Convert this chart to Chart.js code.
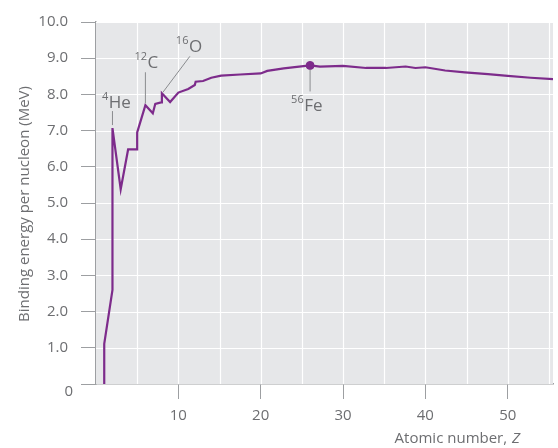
<!DOCTYPE html>
<html lang="en">
<head>
<meta charset="UTF-8">
<title>Binding energy per nucleon</title>
<script src="https://cdn.jsdelivr.net/npm/chart.js"></script>
<style>
  html, body { margin: 0; padding: 0; background: #fff; }
</style>
</head>
<body>
<canvas id="bindingChart" width="558" height="448"></canvas>
<script>
// curve: atomic number Z vs binding energy per nucleon (MeV)
const atomicNumber = [1, 1, 2, 2, 3, 3.9, 5, 5, 6, 6.9, 7.2, 7.9, 8, 9, 10, 11.2, 12, 12.1, 13, 14, 15.2,
  17.5, 20, 20.8, 22.8, 24.4, 26, 27.2, 30, 32.8, 35.2, 37.6, 38.8, 40, 42.4, 44.8, 47.6, 50, 52.8, 55.5];
const bindingEnergy = [0, 1.11, 2.6, 7.07, 5.38, 6.48, 6.48, 6.95, 7.7, 7.48, 7.74, 7.78, 8.03, 7.79, 8.05, 8.15, 8.26, 8.35, 8.37, 8.46, 8.52,
  8.55, 8.58, 8.65, 8.72, 8.76, 8.80, 8.77, 8.79, 8.73, 8.73, 8.77, 8.73, 8.75, 8.66, 8.61, 8.56, 8.51, 8.46, 8.42];

// iron-56, the marked maximum
const ironZ = [26];
const ironEnergy = [8.80];

// labelled nuclides: superscript mass number, symbol, index of the point on the curve
const nuclideMass = ['4', '12', '16', '56'];
const nuclideSymbol = ['He', 'C', 'O', 'Fe'];
const nuclidePoint = [3, 8, 12, 26];

const xLabelTicks = [10, 20, 30, 40, 50];

const purple = '#7d2b8b';
const textGray = '#6d6e71';
const axisGray = '#9d9fa2';
const font = '"Open Sans", sans-serif';

// where each label sits relative to its point (px): label left, main baseline, leader line
const noteLayout = [
  { dx: -10.5, dy: -20, lead: [0, -3, 0, -17] },
  { dx: -11, dy: -37, lead: [0, -2, 0, -33] },
  { dx: 14, dy: -41, lead: [1, -1, 28, -37] },
  { dx: -19, dy: 46, lead: [0, 4, 0, 26] }
];

// plot background plus white grid, drawn before the axes
const decor = {
  id: 'decor',
  beforeDatasetsDraw(chart) {
    const { ctx, chartArea: a } = chart;
    const xs = chart.scales.x, ys = chart.scales.y;
    ctx.save();
    ctx.fillStyle = '#e6e7e9';
    ctx.fillRect(a.left, a.top, a.right - a.left, a.bottom - a.top);
    ctx.strokeStyle = '#ffffff';
    ctx.lineWidth = 1.2;
    ctx.beginPath();
    xs.ticks.forEach(t => {
      const x = Math.round(xs.getPixelForValue(t.value)) + 0.5;
      if (x <= a.left + 1) return;
      ctx.moveTo(x, a.top);
      ctx.lineTo(x, a.bottom);
    });
    ys.ticks.forEach(t => {
      const y = Math.round(ys.getPixelForValue(t.value)) + 0.5;
      if (y >= a.bottom - 1) return;
      ctx.moveTo(a.left, y);
      ctx.lineTo(a.right, y);
    });
    ctx.stroke();
    ctx.restore();
  },
  afterDraw(chart) {
    const { ctx } = chart;
    const xs = chart.scales.x, ys = chart.scales.y;
    ctx.save();
    ctx.fillStyle = textGray;
    ctx.strokeStyle = '#8a8c8f';
    ctx.lineWidth = 1;
    nuclidePoint.forEach((idx, i) => {
      const px = xs.getPixelForValue(atomicNumber[idx]);
      const py = ys.getPixelForValue(bindingEnergy[idx]);
      const l = noteLayout[i];
      ctx.beginPath();
      ctx.moveTo(px + l.lead[0], py + l.lead[1]);
      ctx.lineTo(px + l.lead[2], py + l.lead[3]);
      ctx.stroke();
      const left = px + l.dx, base = py + l.dy;
      ctx.textAlign = 'left';
      ctx.textBaseline = 'alphabetic';
      ctx.font = '11px ' + font;
      ctx.fillText(nuclideMass[i], left, base - 8);
      const w = ctx.measureText(nuclideMass[i]).width;
      ctx.font = '17px ' + font;
      ctx.fillText(nuclideSymbol[i], left + w + 0.5, base);
    });

    // the zero label sits a little below the axis in the original
    ctx.font = '15px ' + font;
    ctx.textAlign = 'right';
    ctx.textBaseline = 'middle';
    ctx.fillText('0', 73, ys.getPixelForValue(0) + 8);

    // x title with italic Z
    ctx.textBaseline = 'alphabetic';
    ctx.font = 'italic 15px ' + font;
    const zw = ctx.measureText('Z').width;
    ctx.fillText('Z', 520, 443);
    ctx.font = '15px ' + font;
    ctx.fillText('Atomic number, ', 520 - zw - 1, 443);

    // y title
    ctx.translate(29, 204);
    ctx.rotate(-Math.PI / 2);
    ctx.textAlign = 'center';
    ctx.fillText('Binding energy per nucleon (MeV)', 0, 0);
    ctx.restore();
  }
};

new Chart(document.getElementById('bindingChart'), {
  type: 'line',
  data: {
    datasets: [
      {
        data: ironZ.map((z, i) => ({ x: z, y: ironEnergy[i] })),
        borderColor: purple,
        backgroundColor: purple,
        showLine: false,
        pointRadius: 4,
        pointHoverRadius: 4,
        order: 0
      },
      {
        data: atomicNumber.map((z, i) => ({ x: z, y: bindingEnergy[i] })),
        borderColor: purple,
        borderWidth: 2.2,
        pointRadius: 0,
        tension: 0,
        fill: false,
        order: 1
      }
    ]
  },
  options: {
    responsive: false,
    animation: false,
    devicePixelRatio: 1,
    layout: { padding: { top: 15, right: 0, left: 0, bottom: 0 } },
    plugins: { legend: { display: false }, tooltip: { enabled: false } },
    scales: {
      x: {
        type: 'linear',
        min: 0,
        max: 55.5,
        afterFit(scale) { scale.height = 64; },
        border: { color: axisGray, width: 1.5 },
        grid: {
          drawOnChartArea: false,
          tickLength: 15,
          tickColor: c => xLabelTicks.includes(c.tick.value) ? axisGray : 'rgba(0,0,0,0)'
        },
        ticks: {
          stepSize: 5,
          includeBounds: false,
          maxRotation: 0,
          autoSkip: false,
          padding: 8,
          color: textGray,
          font: { family: font, size: 15 },
          callback: v => xLabelTicks.includes(v) ? String(v) : ''
        }
      },
      y: {
        min: 0,
        max: 10,
        afterFit(scale) { scale.width = 96; },
        border: { color: axisGray, width: 1.5 },
        grid: {
          drawOnChartArea: false,
          tickLength: 15,
          tickColor: axisGray
        },
        ticks: {
          stepSize: 1,
          padding: 13,
          color: textGray,
          font: { family: font, size: 15 },
          callback: v => v === 0 ? '' : v.toFixed(1)
        }
      }
    }
  },
  plugins: [decor]
});
</script>
</body>
</html>
